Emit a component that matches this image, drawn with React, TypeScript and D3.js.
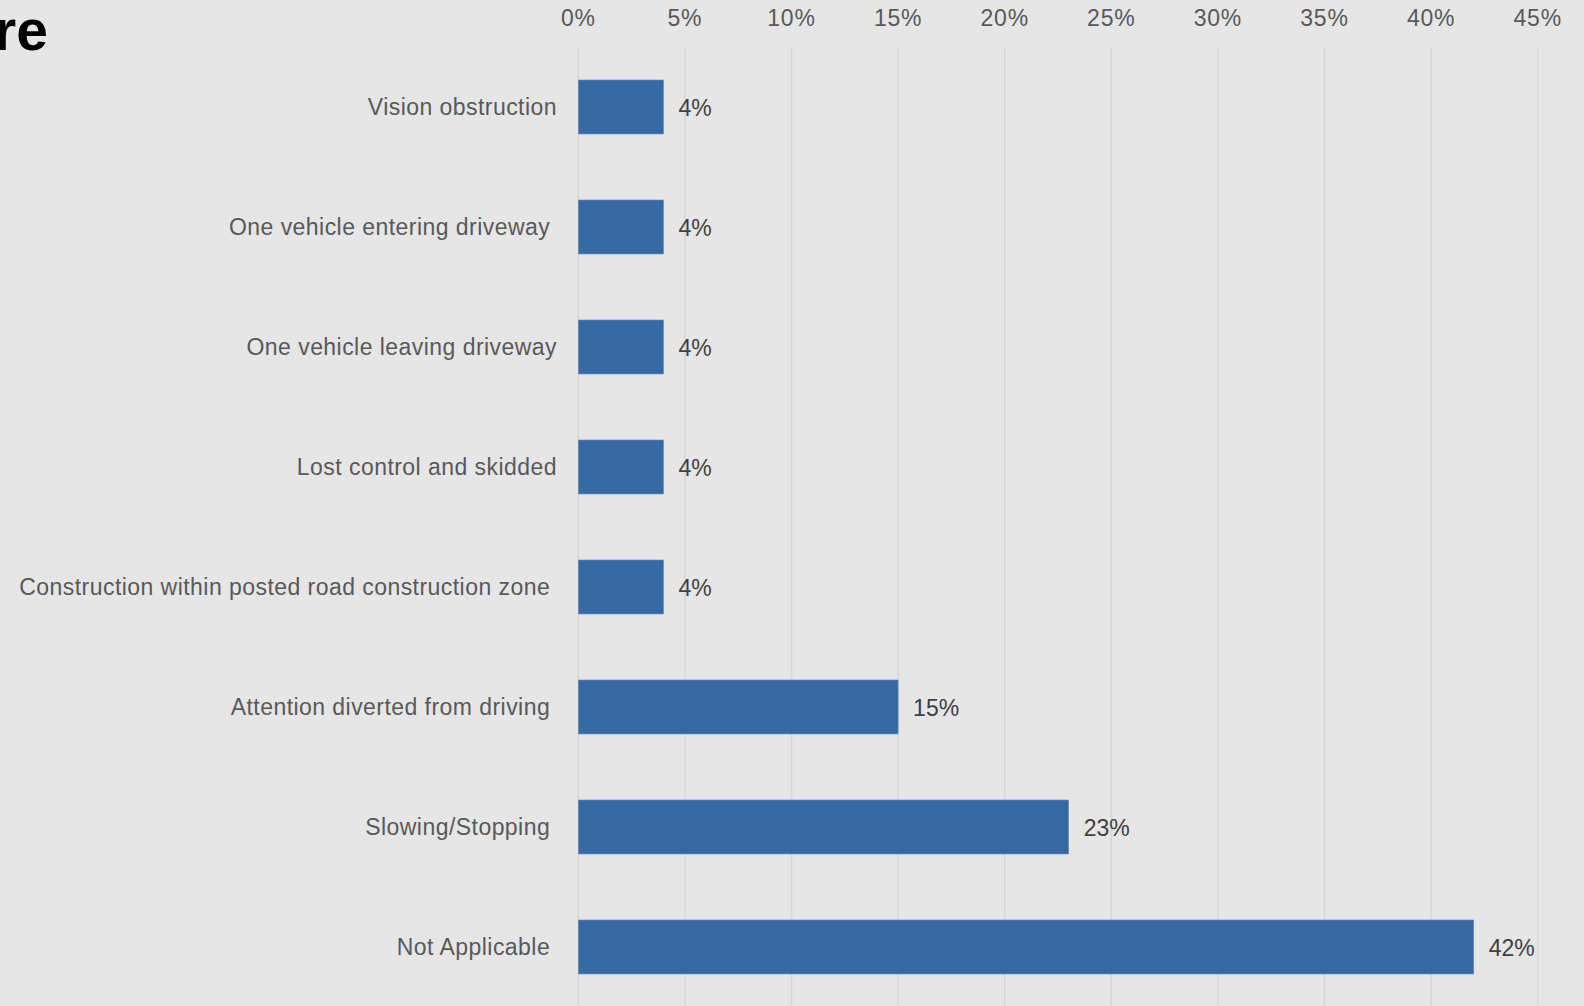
import React from "react";
import * as d3 from "d3";

const categories = [
  "Vision obstruction",
  "One vehicle entering driveway ",
  "One vehicle leaving driveway",
  "Lost control and skidded",
  "Construction within posted road construction zone ",
  "Attention diverted from driving ",
  "Slowing/Stopping ",
  "Not Applicable ",
];
const values = [4, 4, 4, 4, 4, 15, 23, 42];
const tickValues = [0, 5, 10, 15, 20, 25, 30, 35, 40, 45];
const titleText = "re";

const W = 1584;
const H = 1006;

export default function App() {
  const x = d3.scaleLinear().domain([0, 45]).range([578.3, 1537.7]);
  const y = d3
    .scaleBand<string>()
    .domain(categories)
    .range([47, 1007])
    .paddingInner(0.55)
    .paddingOuter(0.275);
  const font = "'Liberation Sans', Arial, sans-serif";
  return (
    <div style={{ position: "absolute", left: 0, top: 0, width: W, height: H }}>
      <svg width={W} height={H} style={{ display: "block" }}>
        <rect x={0} y={0} width={W} height={H} fill="#e6e6e6" />
        <text
          x={48}
          y={50}
          textAnchor="end"
          fontFamily={font}
          fontWeight="bold"
          fontSize={57}
          fill="#000"
        >
          {titleText}
        </text>
        {tickValues.map((t) => (
          <g key={t}>
            <line
              x1={x(t)}
              x2={x(t)}
              y1={47}
              y2={H}
              stroke="#d7d7d7"
              strokeWidth={1.5}
            />
            <text
              x={x(t)}
              y={26}
              textAnchor="middle"
              fontFamily={font}
              fontSize={23}
              letterSpacing={0.8}
              fill="#595959"
            >
              {t + "%"}
            </text>
          </g>
        ))}
        {categories.map((c, i) => {
          const yy = y(c) as number;
          const bw = y.bandwidth();
          return (
            <g key={c}>
              <rect
                x={x(0)}
                y={yy}
                width={x(values[i]) - x(0)}
                height={bw}
                fill="#3868a1"
                stroke="#6d8fbb"
                strokeWidth={0.6}
              />
              <text
                x={557}
                y={yy + bw / 2}
                dy="0.33em"
                textAnchor="end"
                fontFamily={font}
                fontSize={23}
                letterSpacing={0.45}
                fill="#595959"
                xmlSpace="preserve"
                style={{ whiteSpace: "pre" }}
              >
                {c}
              </text>
              <text
                x={x(values[i]) + 15}
                y={yy + bw / 2}
                dy="0.38em"
                fontFamily={font}
                fontSize={23}
                fill="#404040"
              >
                {values[i] + "%"}
              </text>
            </g>
          );
        })}
      </svg>
    </div>
  );
}
